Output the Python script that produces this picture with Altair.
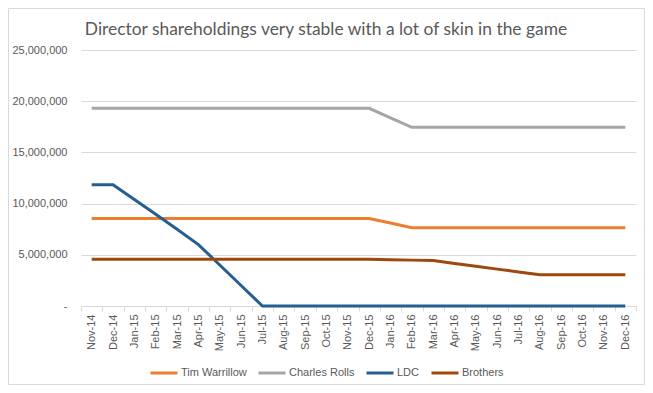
import altair as alt
import pandas as pd

months = ["Nov-14", "Dec-14", "Jan-15", "Feb-15", "Mar-15", "Apr-15", "May-15", "Jun-15",
          "Jul-15", "Aug-15", "Sep-15", "Oct-15", "Nov-15", "Dec-15", "Jan-16", "Feb-16",
          "Mar-16", "Apr-16", "May-16", "Jun-16", "Jul-16", "Aug-16", "Sep-16", "Oct-16",
          "Nov-16", "Dec-16"]

tim_warrillow = [8550000] * 14 + [8100000] + [7650000] * 11
charles_rolls = [19300000] * 14 + [18380000] + [17450000] * 11
ldc = [11850000, 11850000, 10400000, 8950000, 7500000, 6000000, 4000000, 2000000] + [0] * 18
brothers = [4560000] * 14 + [4520000, 4480000, 4440000, 4160000, 3880000, 3600000, 3320000,
                              3050000, 3050000, 3050000, 3050000, 3050000]

series_names = ["Tim Warrillow", "Charles Rolls", "LDC", "Brothers"]
series_values = [tim_warrillow, charles_rolls, ldc, brothers]
series_colors = ["#ED7D31", "#A5A5A5", "#255E91", "#9E480E"]

title_text = ["Director shareholdings very stable with a lot of skin in the game"]

rows = []
for name, vals in zip(series_names, series_values):
    for m, v in zip(months, vals):
        rows.append({"Month": m, "Series": name, "Value": v})
df = pd.DataFrame(rows)

TXT = "#595959"
GRID = "#D9D9D9"
FONT = "Liberation Sans"

lines = alt.Chart(df).mark_line(strokeWidth=3).encode(
    x=alt.X("Month:O", sort=months,
            scale=alt.Scale(type="band", paddingInner=0, paddingOuter=0),
            axis=alt.Axis(title=None, labelAngle=-90, labelFontSize=11, labelColor=TXT,
                          labelFont=FONT, domainColor=GRID, tickColor=GRID, tickSize=5,
                          tickBand="extent", labelPadding=3, grid=False)),
    y=alt.Y("Value:Q",
            scale=alt.Scale(domain=[0, 25000000]),
            axis=alt.Axis(title=None, values=[0, 5000000, 10000000, 15000000, 20000000, 25000000],
                          labelExpr="datum.value == 0 ? '-' : format(datum.value, ',')",
                          labelFontSize=11, labelColor=TXT, labelFont=FONT,
                          domain=False, ticks=False, labelPadding=14,
                          gridColor=GRID, gridWidth=1)),
    color=alt.Color("Series:N",
                    scale=alt.Scale(domain=series_names, range=series_colors),
                    legend=alt.Legend(title=None, orient="none", direction="horizontal",
                                      legendX=68, legendY=308,
                                      symbolType="stroke", symbolStrokeWidth=3,
                                      symbolSize=729, labelFontSize=11, labelColor=TXT,
                                      labelFont=FONT, columnPadding=5, labelOffset=2)),
    order=alt.Order("Series:N")
)

border = alt.Chart(pd.DataFrame({"a": [0]})).mark_rect(
    fill=None, stroke=GRID, strokeWidth=1
).encode(x=alt.value(-72.5), x2=alt.value(563.5), y=alt.value(-41.5), y2=alt.value(334.5))

title = alt.Chart(pd.DataFrame({"t": title_text})).mark_text(
    font="Lato", fontSize=17.4, color=TXT, align="center", baseline="middle"
).encode(text="t:N", x=alt.value(245), y=alt.value(-20))

chart = alt.layer(border, lines, title).properties(
    width=555, height=256,
    padding={"left": 73, "top": 42, "right": 9, "bottom": 79},
    autosize=alt.AutoSizeParams(type="none"),
).configure_view(stroke=None)

chart.save("out.html", embed_options={"renderer": "svg", "actions": False})
